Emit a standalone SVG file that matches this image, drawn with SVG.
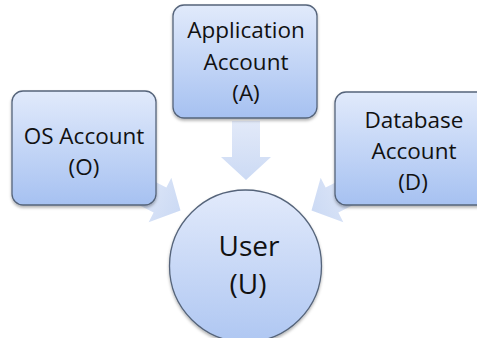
<svg xmlns="http://www.w3.org/2000/svg" width="477" height="338" viewBox="0 0 477 338">
<style>
.box{fill:url(#gBox);stroke:#55647a;stroke-width:1.3;filter:url(#sh)}
.circ{fill:url(#gCirc);stroke:#55647a;stroke-width:1.3;filter:url(#sh)}
.arr{fill:url(#gArr);opacity:0.9}
text{font-family:"Open Sans","Liberation Sans",sans-serif;fill:#111;text-anchor:middle}
.t{font-size:22.5px}
.u{font-size:28px}
</style>
<defs>
<linearGradient id="gBox" x1="0" y1="0" x2="0" y2="1">
<stop offset="0" stop-color="#e1eafb"/>
<stop offset="1" stop-color="#a6c1f1"/>
</linearGradient>
<linearGradient id="gCirc" x1="0" y1="0" x2="0" y2="1">
<stop offset="0" stop-color="#e2eafb"/>
<stop offset="1" stop-color="#afc7f2"/>
</linearGradient>
<linearGradient id="gArr" x1="0" y1="0" x2="1" y2="0">
<stop offset="0" stop-color="#dfe7f8"/>
<stop offset="1" stop-color="#c6d6f3"/>
</linearGradient>
<filter id="sh" x="-10%" y="-10%" width="120%" height="125%">
<feDropShadow dx="0" dy="2" stdDeviation="1.8" flood-color="#000" flood-opacity="0.3"/>
</filter>
<path id="arrow" d="M-36,-14 L0,-14 L0,-25 L23,0 L0,25 L0,14 L-36,14 Z"/>
</defs>
<g id="connectors">
<use href="#arrow" class="arr" transform="translate(246,157) rotate(90)"/>
<use href="#arrow" class="arr" transform="translate(160,200) rotate(27)"/>
<use href="#arrow" class="arr" transform="translate(332,200) rotate(153)"/>
</g>
<g id="user">
<circle class="circ" cx="245.5" cy="266" r="76"/>
<text class="u" x="249" y="256">User</text>
<text class="u" x="248" y="294">(U)</text>
</g>
<g id="os">
<rect class="box" x="12" y="91" width="144" height="114" rx="11"/>
<text class="t" x="84" y="144">OS Account</text>
<text class="t" x="84" y="175">(O)</text>
</g>
<g id="app">
<rect class="box" x="173" y="5" width="144" height="113" rx="11"/>
<text class="t" x="246" y="38">Application</text>
<text class="t" x="246" y="69.5">Account</text>
<text class="t" x="246" y="101">(A)</text>
</g>
<g id="db">
<rect class="box" x="335" y="92" width="158" height="113" rx="11"/>
<text class="t" x="414" y="128">Database</text>
<text class="t" x="414" y="159">Account</text>
<text class="t" x="413" y="190">(D)</text>
</g>
</svg>
